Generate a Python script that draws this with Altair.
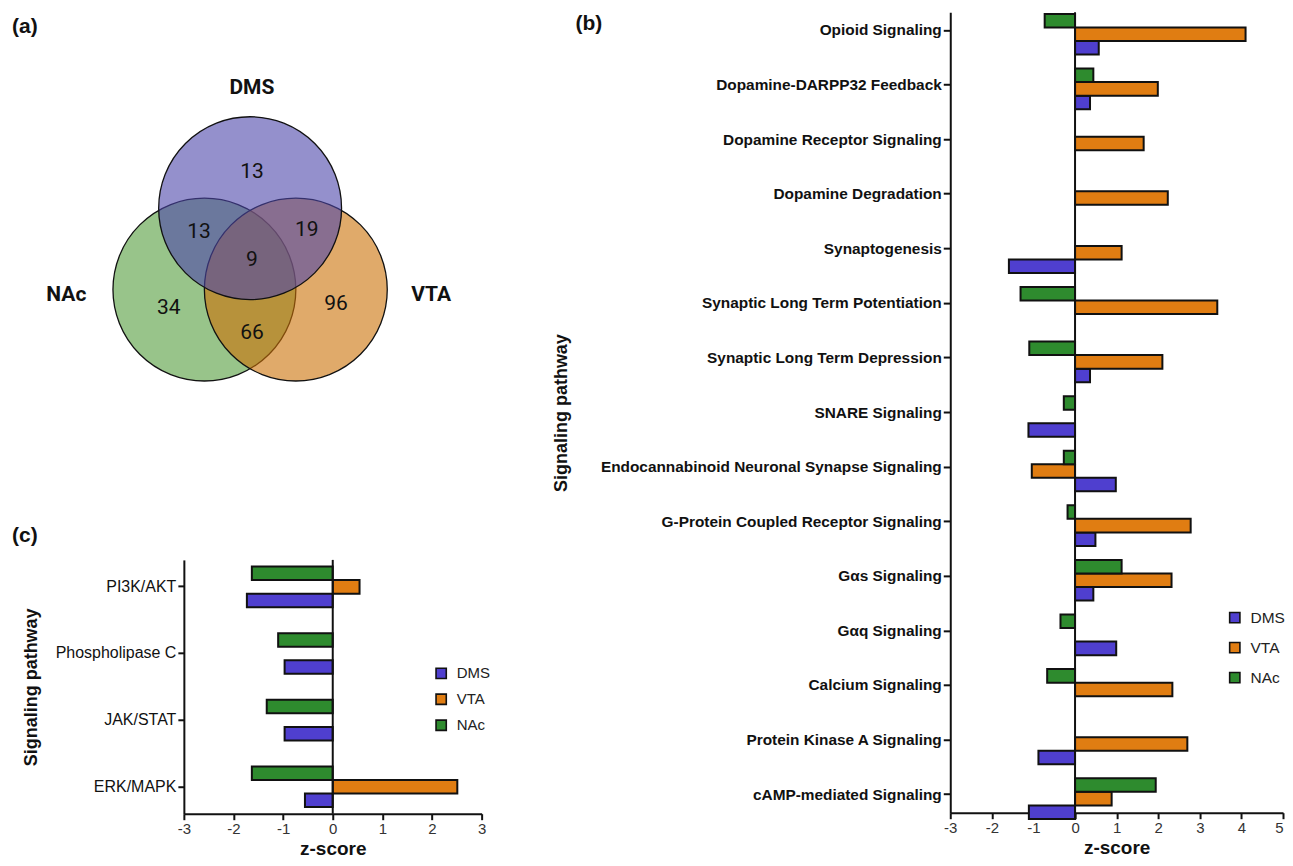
import altair as alt
import pandas as pd

FONT = "Liberation Sans"

# ---------------- data ----------------
regions = ["DMS", "VTA", "NAc"]
bar_colors = ["#4F3FCF", "#E07D12", "#2E8B2E"]
offset_order = ["NAc", "VTA", "DMS"]

b_paths = [
    "Opioid Signaling",
    "Dopamine-DARPP32 Feedback",
    "Dopamine Receptor Signaling",
    "Dopamine Degradation",
    "Synaptogenesis",
    "Synaptic Long Term Potentiation",
    "Synaptic Long Term Depression",
    "SNARE Signaling",
    "Endocannabinoid Neuronal Synapse Signaling",
    "G-Protein Coupled Receptor Signaling",
    "Gαs Signaling",
    "Gαq Signaling",
    "Calcium Signaling",
    "Protein Kinase A Signaling",
    "cAMP-mediated Signaling",
]
b_dms = [0.57, 0.36, None, None, -1.59, None, 0.36, -1.12, 0.98, 0.49, 0.44, 0.99, None, -0.88, -1.11]
b_vta = [4.10, 1.99, 1.65, 2.23, 1.12, 3.42, 2.10, None, -1.04, 2.78, 2.32, None, 2.34, 2.70, 0.88]
b_nac = [-0.73, 0.44, None, None, None, -1.31, -1.10, -0.27, -0.27, -0.18, 1.12, -0.35, -0.67, None, 1.94]

c_paths = ["PI3K/AKT", "Phospholipase C", "JAK/STAT", "ERK/MAPK"]
c_dms = [-1.73, -0.97, -0.97, -0.56]
c_vta = [0.54, None, None, 2.51]
c_nac = [-1.63, -1.10, -1.33, -1.63]

venn_sets = ["NAc", "VTA", "DMS"]
venn_cx = [-0.5, 0.5, 0.0]
venn_cy = [-0.30, -0.30, 0.59]
venn_fill = ["#539D3C", "#CB7107", "#4D46AA"]

venn_counts = ["13", "13", "19", "9", "34", "66", "96"]
venn_count_x = [0.02, -0.56, 0.62, 0.02, -0.89, 0.02, 0.94]
venn_count_y = [0.99, 0.33, 0.35, 0.02, -0.50, -0.77, -0.46]

venn_names = ["DMS", "NAc", "VTA"]
venn_name_x = [0.02, -2.01, 1.98]
venn_name_y = [1.90, -0.36, -0.36]


def long_table(paths, dms, vta, nac):
    rows = []
    for p, d, v, n in zip(paths, dms, vta, nac):
        for r, val in (("DMS", d), ("VTA", v), ("NAc", n)):
            if val is not None:
                rows.append({"pathway": p, "region": r, "z": val})
    return pd.DataFrame(rows)


def bar_panel(df, paths, xdom, width, height, pad_in, pad_out, label_bold,
              label_size, tick_size, extent, title_pad, leg_x, leg_y, leg_font,
              leg_row_pad, panel_text, panel_x, panel_y):
    color = alt.Color(
        "region:N",
        scale=alt.Scale(domain=regions, range=bar_colors),
        legend=alt.Legend(
            orient="none", legendX=leg_x, legendY=leg_y, title=None,
            symbolType="square", symbolSize=105, symbolStrokeColor="#111",
            symbolStrokeWidth=1.6, symbolOpacity=1, labelFont=FONT,
            labelFontSize=leg_font, labelColor="#222", rowPadding=leg_row_pad,
            padding=0, labelOffset=8,
        ),
    )
    bars = alt.Chart(df).mark_bar(stroke="#111", strokeWidth=2).encode(
        x=alt.X(
            "z:Q", stack=None,
            scale=alt.Scale(domain=xdom, nice=False),
            axis=alt.Axis(
                values=list(range(xdom[0], xdom[1] + 1)),
                labelExpr="toString(datum.value)",
                labelAlign={"expr": "datum.value == 5 ? 'right' : 'center'"},
                grid=False, domainColor="#111", domainWidth=2,
                tickColor="#111", tickWidth=2, tickSize=6,
                labelFont=FONT, labelFontSize=15, labelColor="#333",
                labelPadding=2, title="z-score", titleFont=FONT,
                titleFontSize=19, titleFontWeight="bold", titleColor="#111",
                titlePadding=3,
            ),
        ),
        y=alt.Y(
            "pathway:N", sort=paths,
            scale=alt.Scale(domain=paths, paddingInner=pad_in, paddingOuter=pad_out),
            axis=alt.Axis(
                grid=False, domainColor="#111", domainWidth=2,
                tickColor="#111", tickWidth=2, tickSize=tick_size,
                labelFont=FONT, labelFontSize=label_size,
                labelFontWeight="bold" if label_bold else "normal",
                labelColor="#111", labelPadding=2, labelLimit=500,
                minExtent=extent, maxExtent=extent,
                title="Signaling pathway", titleFont=FONT, titleFontSize=18,
                titleFontWeight="bold", titleColor="#111", titlePadding=title_pad,
            ),
        ),
        yOffset=alt.YOffset(
            "region:N",
            scale=alt.Scale(domain=offset_order, paddingInner=0, paddingOuter=0),
        ),
        color=color,
    )
    zero = alt.Chart(pd.DataFrame({"z": [0]})).mark_rule(
        color="#111", strokeWidth=2
    ).encode(x="z:Q")
    label = alt.Chart(pd.DataFrame({"t": [panel_text]})).mark_text(
        font=FONT, fontSize=21, fontWeight="bold", align="left",
        baseline="top", color="#111"
    ).encode(text="t:N", x=alt.value(panel_x), y=alt.value(panel_y))
    return alt.layer(bars, zero, label).properties(width=width, height=height)


b_df = long_table(b_paths, b_dms, b_vta, b_nac)
c_df = long_table(c_paths, c_dms, c_vta, c_nac)

b_chart = bar_panel(b_df, b_paths, [-3, 5], 333, 801, 0.4, 0.03, True, 15.4, 7,
                    356, 24, 277, 598, 15.5, 12, "(b)", -375, 1)
c_chart = bar_panel(c_df, c_paths, [-3, 3], 298, 254, 0.39, 0.10, False, 16, 6,
                    131, 12, 250, 106, 15, 9, "(c)", -172, -35)

# ---------------- Venn ----------------
vx = alt.Scale(domain=[-2, 2], range=[-116.7, 249.3], nice=False, zero=False)
vy = alt.Scale(domain=[-2, 2], range=[433, 67], nice=False, zero=False)

circ_df = pd.DataFrame({"set": venn_sets, "cx": venn_cx, "cy": venn_cy,
                        "fill": venn_fill, "ord": list(range(len(venn_sets)))})
circles = alt.Chart(circ_df).mark_circle(
    size=33500, stroke="#111", strokeWidth=1.3, fillOpacity=0.6,
    strokeOpacity=1, opacity=1
).encode(
    x=alt.X("cx:Q", scale=vx, axis=None),
    y=alt.Y("cy:Q", scale=vy, axis=None),
    fill=alt.Fill("fill:N", scale=None),
    order=alt.Order("ord:Q"),
)
counts = alt.Chart(pd.DataFrame({"t": venn_counts, "x": venn_count_x, "y": venn_count_y})).mark_text(
    font="Roboto", fontSize=21, color="#111", baseline="middle"
).encode(x=alt.X("x:Q", scale=vx, axis=None), y=alt.Y("y:Q", scale=vy, axis=None), text="t:N")
names = alt.Chart(pd.DataFrame({"t": venn_names, "x": venn_name_x, "y": venn_name_y})).mark_text(
    font="Roboto", fontSize=21, fontWeight="bold", color="#111", baseline="middle"
).encode(x=alt.X("x:Q", scale=vx, axis=None), y=alt.Y("y:Q", scale=vy, axis=None), text="t:N")
a_label = alt.Chart(pd.DataFrame({"t": ["(a)"]})).mark_text(
    font=FONT, fontSize=21, fontWeight="bold", align="left", baseline="top", color="#111"
).encode(text="t:N", x=alt.value(-172), y=alt.value(4))
venn = alt.layer(circles, counts, names, a_label).properties(width=298, height=500)

left = alt.vconcat(venn, c_chart, spacing=48, bounds="flush").resolve_scale(
    color="independent").resolve_legend(color="independent")
chart = alt.hconcat(left, b_chart, spacing=767, bounds="flush").resolve_scale(
    color="independent").resolve_legend(color="independent").properties(
    padding={"left": 4, "top": 3, "right": 0, "bottom": 0}
).configure(font=FONT, background="white").configure_view(strokeWidth=0)

chart.save("out.html", embed_options={"renderer": "svg", "actions": False})
